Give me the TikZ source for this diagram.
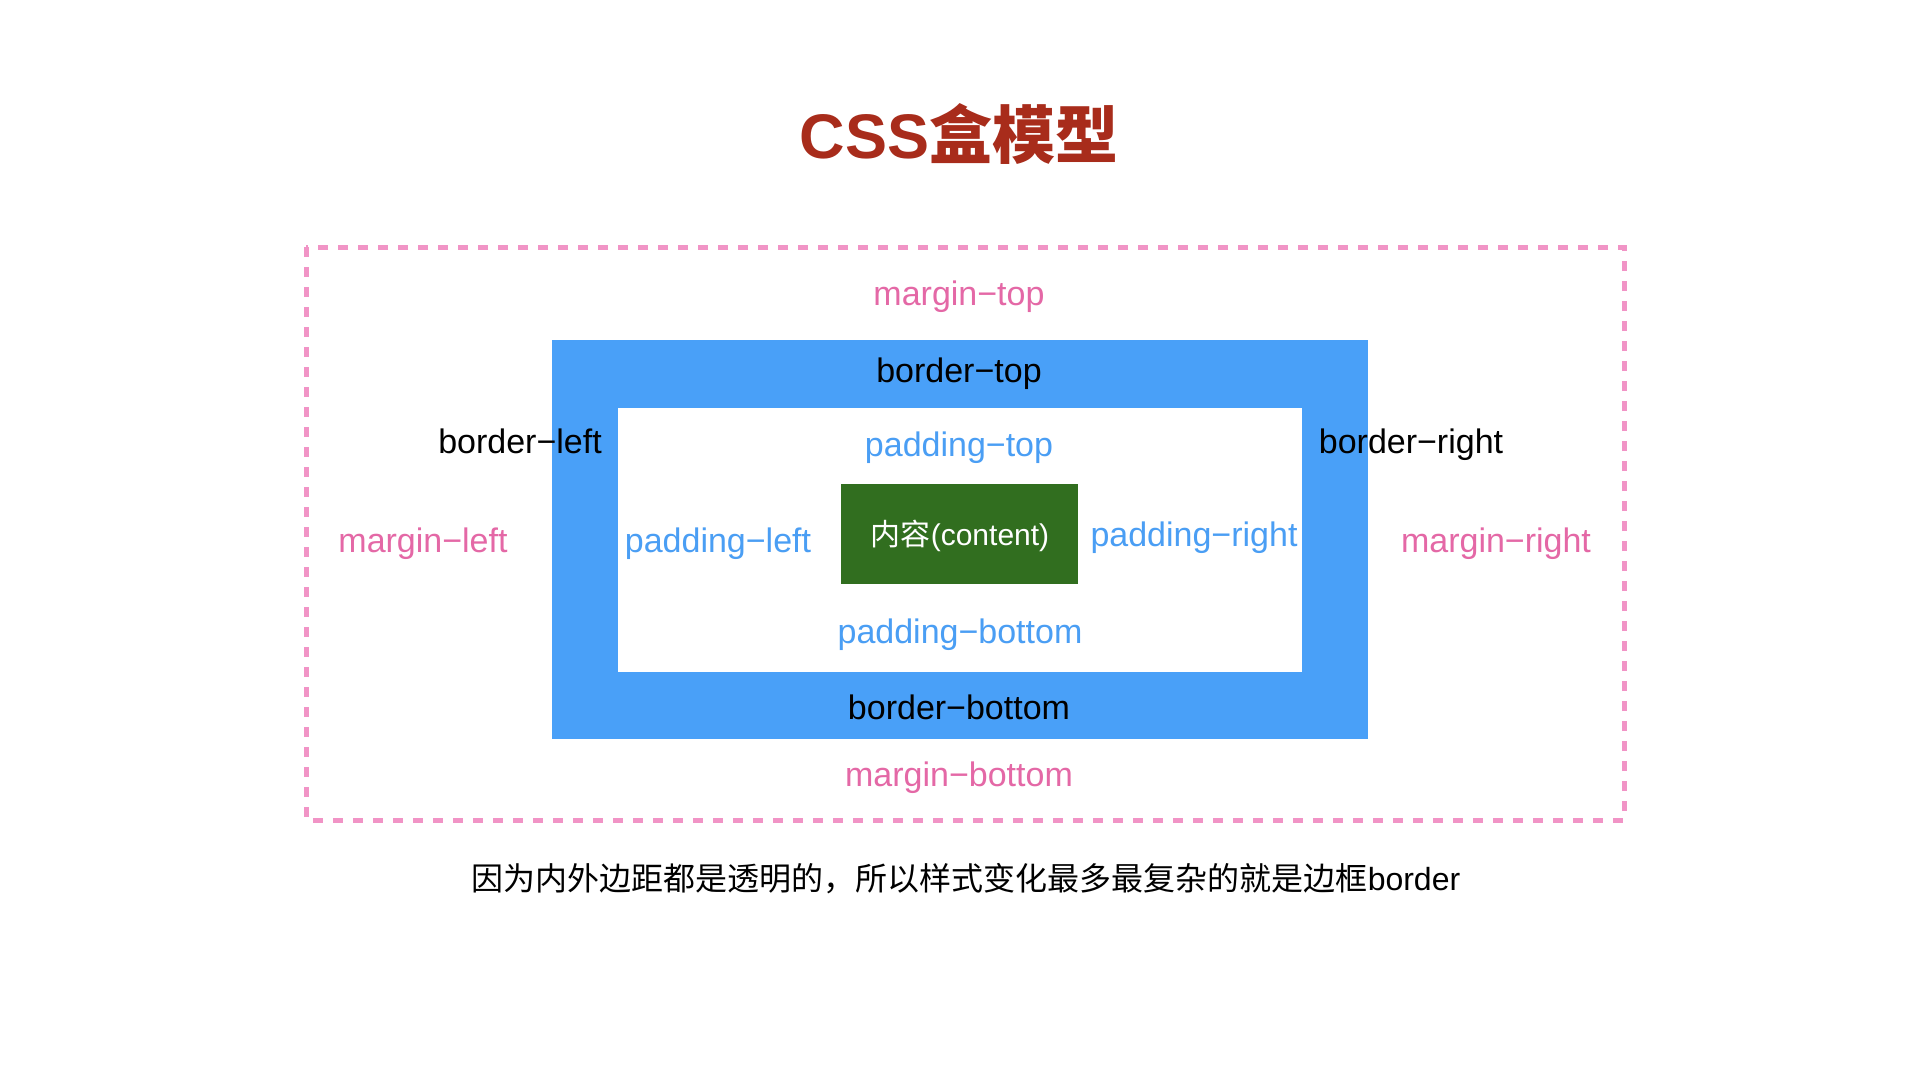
\documentclass[tikz,border=0pt]{standalone}
\usepackage{fontspec}
\setmainfont{Liberation Sans}
\newfontfamily\cjk{Noto Sans CJK SC}
\definecolor{mpink}{HTML}{E468A6}
\definecolor{dashpink}{HTML}{F194C6}
\definecolor{bordblue}{HTML}{49A0F8}
\definecolor{pblue}{HTML}{4A9EF4}
\definecolor{contgreen}{HTML}{316E1F}
\definecolor{titlered}{HTML}{A82C1B}
\begin{document}
\begin{tikzpicture}[x=1pt,y=-1pt,
  lbl/.style={anchor=base, inner sep=0pt, font=\fontsize{34}{40}\selectfont},
  mlbl/.style={lbl, text=mpink},
  blbl/.style={lbl, text=black},
  plbl/.style={lbl, text=pblue},
  marginline/.style={draw=dashpink, line width=5pt, dash pattern=on 10pt off 10pt}]
\useasboundingbox (0,0) rectangle (1920,1080);
\fill[white] (0,0) rectangle (1920,1080);
% boxes
\draw[marginline] (306,247) rectangle (1624,820);
\fill[bordblue] (552,340) rectangle (1368,739);
\fill[white] (618,408) rectangle (1302,672);
\fill[contgreen] (841,484) rectangle (1078,584);
% title
\node[anchor=base, inner sep=0pt, text=titlered, font=\fontsize{63}{70}\selectfont\bfseries] (title) at (959,158) {CSS{\cjk\bfseries 盒模型}};
% margin labels
\node[mlbl] (mtop) at (959,305) {margin−top};
\node[mlbl] (mleft) at (423,552) {margin−left};
\node[mlbl] (mright) at (1496,552) {margin−right};
\node[mlbl] (mbottom) at (959,786) {margin−bottom};
% border labels
\node[blbl] (btop) at (959,382) {border−top};
\node[blbl] (bleft) at (520,453) {border−left};
\node[blbl] (bright) at (1411,453) {border−right};
\node[blbl] (bbottom) at (959,719) {border−bottom};
% padding labels
\node[plbl] (ptop) at (959,456) {padding−top};
\node[plbl] (pleft) at (718,552) {padding−left};
\node[plbl] (pright) at (1194,546) {padding−right};
\node[plbl] (pbottom) at (960,643) {padding−bottom};
% content
\node[anchor=base, inner sep=0pt, text=white, font=\fontsize{30}{36}\selectfont] (content) at (960,545) {{\cjk 内容}(content)};
% caption
\node[anchor=base, inner sep=0pt, text=black, font=\fontsize{32}{38}\selectfont] (caption) at (966,890) {{\cjk 因为内外边距都是透明的，所以样式变化最多最复杂的就是边框}border};
\end{tikzpicture}
\end{document}
